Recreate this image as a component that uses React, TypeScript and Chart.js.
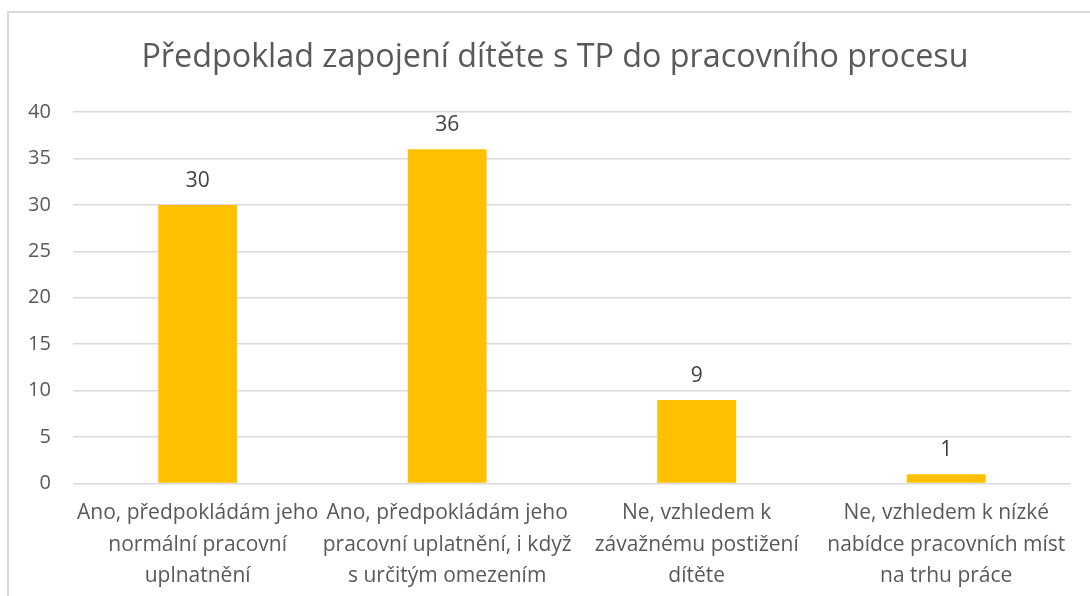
import React, { useEffect, useRef } from "react";
import { Chart, registerables } from "chart.js";

Chart.register(...registerables);

const title = "Předpoklad zapojení dítěte s TP do pracovního procesu";
const categories: string[][] = [
  ["Ano, předpokládám jeho", "normální pracovní", "uplnatnění"],
  ["Ano, předpokládám jeho", "pracovní uplatnění, i když", "s určitým omezením"],
  ["Ne, vzhledem k", "závažnému postižení", "dítěte"],
  ["Ne, vzhledem k nízké", "nabídce pracovních míst", "na trhu práce"],
];
const values: number[] = [30, 36, 9, 1];
const yMin = 0;
const yMax = 40;
const yStep = 5;

const FONT = "'Open Sans', sans-serif";

const dataLabelPlugin = {
  id: "dataLabels",
  afterDatasetsDraw(chart: any) {
    const ctx = chart.ctx;
    const meta = chart.getDatasetMeta(0);
    ctx.save();
    ctx.font = `21px ${FONT}`;
    ctx.fillStyle = "#404040";
    ctx.textAlign = "center";
    ctx.textBaseline = "middle";
    meta.data.forEach((bar: any, i: number) => {
      ctx.fillText(String(values[i]), bar.x, bar.y - 24);
    });
    ctx.restore();
  },
};

const titlePlugin = {
  id: "customTitle",
  afterDraw(chart: any) {
    const ctx = chart.ctx;
    ctx.save();
    ctx.font = `32.3px ${FONT}`;
    ctx.fillStyle = "#595959";
    ctx.textAlign = "center";
    ctx.textBaseline = "alphabetic";
    ctx.fillText(title, 555, 67);
    ctx.restore();
  },
};

export default function App() {
  const ref = useRef<HTMLCanvasElement | null>(null);
  useEffect(() => {
    if (!ref.current) return;
    const chart = new Chart(ref.current, {
      type: "bar",
      data: {
        labels: categories,
        datasets: [
          {
            data: values,
            backgroundColor: "#FFC000",
            categoryPercentage: 1,
            barPercentage: 0.316,
          },
        ],
      },
      options: {
        animation: false,
        responsive: false,
        maintainAspectRatio: false,
        layout: { padding: { left: 6, right: 19, top: 112, bottom: -10 } },
        plugins: {
          legend: { display: false },
          tooltip: { enabled: false },
          title: { display: false },
        },
        scales: {
          x: {
            grid: { display: false, drawTicks: false },
            border: { display: false },
            ticks: {
              color: "#595959",
              font: { family: FONT, size: 21, lineHeight: 1.5 },
              maxRotation: 0,
              autoSkip: false,
              padding: 14,
            },
          },
          y: {
            min: yMin,
            max: yMax,
            grid: { color: "#d9d9d9", lineWidth: 1.5, drawTicks: false },
            border: { display: false },
            ticks: {
              stepSize: yStep,
              color: "#595959",
              font: { family: FONT, size: 20 },
              padding: 22,
            },
          },
        },
      },
      plugins: [dataLabelPlugin, titlePlugin],
    });
    return () => chart.destroy();
  }, []);
  return (
    <div>
      <div
        style={{
          position: "fixed",
          left: 7,
          top: 11,
          width: 1200,
          height: 700,
          borderLeft: "2px solid #d9d9d9",
          borderTop: "2px solid #d9d9d9",
        }}
      />
      <canvas
        ref={ref}
        width={1090}
        height={596}
        style={{ position: "fixed", left: 0, top: 0, width: 1090, height: 596 }}
      />
    </div>
  );
}
